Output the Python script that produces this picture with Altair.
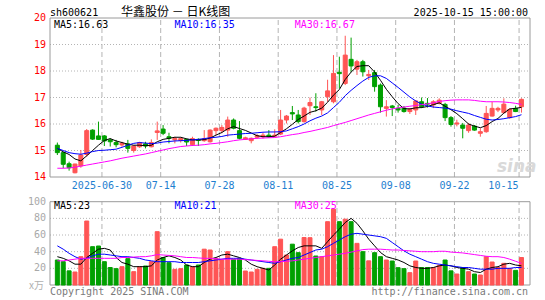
import altair as alt
import pandas as pd

# ---------------- data ----------------
opens = [15.20, 14.92, 14.50, 14.16, 14.42, 14.85, 15.77, 15.55, 15.55, 15.40,
         15.30, 15.21, 15.25, 15.00, 15.14, 15.25, 15.14, 15.68, 15.81, 15.52,
         15.40, 15.38, 15.42, 15.22, 15.42, 15.37, 15.33, 15.75, 15.75, 15.77,
         16.15, 15.75, 15.42, 15.37, 15.50, 15.52, 15.58, 15.54, 15.62, 16.15,
         16.43, 16.34, 16.09, 16.69, 16.65, 16.53, 17.03, 16.84, 17.95, 17.53,
         18.44, 18.07, 18.35, 17.82, 17.94, 17.47, 16.59, 16.68, 16.59, 16.60,
         16.47, 16.53, 16.84, 16.78, 16.72, 16.78, 16.74, 16.24, 16.00, 15.96,
         15.75, 15.92, 15.65, 15.71, 16.30, 16.53, 16.43, 16.24, 16.59, 16.65]
highs = [15.30, 14.95, 14.58, 14.50, 15.02, 15.81, 15.80, 16.09, 15.58, 15.46,
         15.40, 15.33, 15.40, 15.20, 15.33, 15.33, 15.42, 16.09, 15.96, 15.67,
         15.52, 15.50, 15.45, 15.52, 15.46, 15.77, 15.80, 15.87, 15.96, 16.28,
         16.21, 16.11, 15.52, 15.49, 15.62, 15.67, 15.77, 15.80, 16.53, 16.34,
         16.68, 16.53, 16.65, 17.00, 17.16, 16.87, 17.67, 18.60, 18.54, 19.33,
         19.26, 18.42, 18.42, 18.04, 18.04, 17.53, 16.90, 16.72, 16.72, 16.68,
         16.60, 16.90, 17.00, 16.98, 16.90, 16.97, 16.80, 16.30, 16.16, 16.04,
         16.04, 15.96, 15.84, 16.68, 16.84, 16.65, 16.97, 16.59, 16.69, 16.97]
lows = [14.83, 14.33, 14.24, 14.14, 14.35, 14.77, 15.40, 15.40, 15.17, 15.15,
        15.12, 15.14, 14.92, 14.92, 15.10, 15.08, 15.12, 15.40, 15.58, 15.27,
        15.27, 15.30, 15.17, 15.17, 15.17, 15.33, 15.30, 15.58, 15.65, 15.52,
        15.80, 15.42, 15.40, 15.27, 15.44, 15.45, 15.49, 15.50, 15.58, 16.02,
        16.15, 16.02, 16.05, 16.34, 16.47, 16.34, 16.84, 16.78, 17.34, 17.47,
        17.97, 17.85, 17.79, 17.66, 17.22, 16.43, 16.28, 16.30, 16.43, 16.43,
        16.38, 16.34, 16.60, 16.62, 16.60, 16.74, 16.11, 15.90, 15.91, 15.46,
        15.67, 15.75, 15.52, 15.67, 16.28, 16.45, 16.40, 16.20, 16.45, 16.43]
closes = [14.92, 14.48, 14.35, 14.49, 14.83, 15.75, 15.43, 15.42, 15.36, 15.33,
          15.22, 15.27, 15.08, 15.17, 15.30, 15.17, 15.30, 15.74, 15.65, 15.46,
          15.45, 15.45, 15.32, 15.45, 15.38, 15.44, 15.77, 15.84, 15.87, 16.15,
          15.84, 15.46, 15.48, 15.46, 15.56, 15.58, 15.52, 15.58, 16.15, 16.30,
          16.38, 16.09, 16.60, 16.81, 16.62, 16.84, 17.25, 17.91, 17.90, 18.60,
          18.19, 18.35, 17.97, 17.87, 17.41, 16.65, 16.65, 16.62, 16.53, 16.47,
          16.56, 16.87, 16.65, 16.75, 16.84, 16.90, 16.24, 15.98, 16.04, 15.84,
          15.96, 15.77, 15.71, 16.40, 16.59, 16.59, 16.75, 16.55, 16.47, 16.93]
volumes = [30, 28, 17, 15.6, 34, 76.8, 46, 46.8, 28, 21,
           19.6, 22, 31.6, 16, 22, 22.8, 28, 64, 33, 26.8,
           18.8, 19.6, 24, 22, 24, 43, 42, 32, 30, 40,
           30.8, 32, 16.8, 15.6, 18.8, 20, 20, 46, 55, 36,
           49, 38.8, 57, 56.8, 34.8, 34, 76, 91, 76, 79,
           76, 50, 40, 29, 38.8, 34, 30, 28.8, 20.8, 19.6,
           14.8, 28.8, 21, 21, 21, 23.6, 30, 17, 13.2, 21,
           16, 13.2, 12, 34, 27.6, 21, 26, 19.6, 17.6, 33]
ma5 = [15.08, 14.95, 14.85, 14.68, 14.61, 14.80, 15.00, 15.20, 15.38, 15.45,
       15.36, 15.30, 15.24, 15.20, 15.20, 15.18, 15.20, 15.33, 15.42, 15.46,
       15.50, 15.50, 15.44, 15.40, 15.40, 15.41, 15.47, 15.58, 15.68, 15.82,
       15.90, 15.83, 15.76, 15.66, 15.56, 15.52, 15.52, 15.54, 15.68, 15.82,
       15.99, 16.17, 16.30, 16.44, 16.50, 16.60, 16.82, 17.09, 17.30, 17.68,
       17.96, 18.17, 18.20, 18.20, 17.96, 17.65, 17.31, 17.03, 16.77, 16.58,
       16.57, 16.61, 16.62, 16.66, 16.73, 16.80, 16.67, 16.54, 16.39, 16.20,
       16.00, 15.92, 15.86, 15.94, 16.09, 16.21, 16.41, 16.57, 16.59, 16.63]
ma10 = [15.08, 15.00, 14.92, 14.88, 14.86, 14.90, 14.96, 15.00, 15.01, 15.03,
        15.05, 15.12, 15.20, 15.27, 15.30, 15.28, 15.26, 15.28, 15.32, 15.34,
        15.36, 15.37, 15.38, 15.40, 15.42, 15.45, 15.48, 15.50, 15.53, 15.58,
        15.60, 15.62, 15.64, 15.65, 15.67, 15.69, 15.70, 15.70, 15.71, 15.74,
        15.82, 15.90, 16.00, 16.12, 16.22, 16.30, 16.42, 16.62, 16.82, 17.07,
        17.27, 17.45, 17.62, 17.76, 17.82, 17.82, 17.72, 17.55, 17.38, 17.20,
        17.02, 16.87, 16.75, 16.68, 16.64, 16.62, 16.60, 16.56, 16.50, 16.45,
        16.40, 16.32, 16.25, 16.18, 16.15, 16.17, 16.20, 16.24, 16.28, 16.35]
ma30 = [14.33, 14.33, 14.34, 14.37, 14.41, 14.45, 14.49, 14.53, 14.57, 14.61,
        14.66, 14.71, 14.75, 14.79, 14.83, 14.87, 14.92, 14.97, 15.02, 15.07,
        15.11, 15.15, 15.17, 15.19, 15.20, 15.22, 15.25, 15.27, 15.30, 15.33,
        15.37, 15.40, 15.42, 15.44, 15.46, 15.47, 15.48, 15.49, 15.52, 15.56,
        15.60, 15.63, 15.68, 15.72, 15.77, 15.82, 15.87, 15.94, 16.00, 16.06,
        16.13, 16.20, 16.27, 16.34, 16.40, 16.46, 16.52, 16.57, 16.61, 16.64,
        16.67, 16.70, 16.73, 16.76, 16.80, 16.85, 16.88, 16.90, 16.91, 16.91,
        16.91, 16.89, 16.86, 16.84, 16.84, 16.84, 16.83, 16.81, 16.78, 16.74]
vma5 = [34, 32, 29, 25, 25, 33, 38, 43, 44, 42,
        33, 27, 25, 22, 22, 22, 23, 30, 33, 35,
        33, 30, 24, 22, 22, 27, 31, 33, 36, 37,
        35, 33, 30, 25, 22, 20, 18, 24, 31, 36,
        41, 45, 47, 47, 47, 44, 52, 60, 67, 75,
        80, 74, 65, 55, 47, 39, 34, 32, 30, 27,
        23, 21, 20, 20, 21, 23, 24, 23, 21, 20,
        19, 16, 15, 19, 21, 22, 25, 26, 24, 23]
vma10 = [47, 43, 38, 34, 31, 32, 35, 37, 37, 36,
         35, 34, 34, 33, 32, 30, 29, 28, 28, 28,
         28, 27, 27, 27, 27, 28, 29, 30, 31, 32,
         32, 32, 31, 30, 29, 28, 27, 26, 28, 30,
         32, 33, 36, 39, 42, 43, 46, 50, 54, 58,
         61, 62, 61, 60, 59, 58, 56, 51, 46, 41,
         37, 34, 31, 28, 26, 25, 24, 23, 22, 21,
         21, 20, 19, 19, 19, 20, 20, 20, 21, 21]
vma30 = [29, 29, 30, 31, 32, 32, 32, 32, 32, 32,
         32, 33, 33, 33.5, 34, 34, 35, 36.5, 36, 35.5,
         35, 34, 33, 33, 32.5, 32, 32, 31.5, 31, 31,
         31, 31, 30.5, 30, 29.5, 29, 28.5, 28, 28, 28.5,
         29, 30, 31, 32, 33, 34, 35, 36, 37, 38,
         39.5, 41, 42.5, 43, 43, 43, 42.5, 42, 42, 41.5,
         41, 40.5, 40, 40, 40, 40.5, 40.5, 39.5, 39, 38.5,
         37.5, 36.5, 35.5, 34.5, 34, 34, 33, 31, 28.5, 26]

date_tick_idx = [8, 18, 28, 38, 48, 58, 68, 79]
date_tick_labels = ["2025-06-30", "07-14", "07-28", "08-11", "08-25", "09-08", "09-22", "10-15"]
price_ticks = [14, 15, 16, 17, 18, 19, 20]
price_grid = [15, 16, 17, 18, 19]
vol_ticks = [20, 40, 60, 80, 100]
vol_grid = [20, 40, 60, 80]

header_code = "sh600621"
header_title = "华鑫股份 － 日K线图"
header_time = "2025-10-15 15:00:00"
price_legend = ["MA5:16.63", "MA10:16.35", "MA30:16.67"]
vol_legend = ["MA5:23", "MA10:21", "MA30:25"]
vol_unit = "x万"
footer_left = "Copyright 2025 SINA.COM"
footer_right = "http://finance.sina.com.cn"

# ---------------- styling / layout ----------------
W, H = 480, 267
FONT = "DejaVu Sans Mono"
CJK = "Noto Sans CJK SC"
RED = "#ff5555"
GREEN = "#00a000"
GRID = "#b4b4b4"
FRAME = "#9a9a9a"
DATE_BLUE = "#1e80d0"

n = len(closes)
df = pd.DataFrame({
    "i": list(range(n)), "o": opens, "h": highs, "l": lows, "c": closes, "v": volumes,
    "ma5": ma5, "ma10": ma10, "ma30": ma30, "vma5": vma5, "vma10": vma10, "vma30": vma30,
})
df["col"] = [RED if c >= o else GREEN for o, c in zip(opens, closes)]

xs = alt.Scale(domain=[-0.4, 79.6], nice=False, zero=False)
ps = alt.Scale(domain=[9.925, 20], nice=False, zero=False)
vs = alt.Scale(domain=[0, 320.5], nice=False, zero=False)


def X(f="i"):
    return alt.X(f"{f}:Q", scale=xs, axis=None)


def PY(f):
    return alt.Y(f"{f}:Q", scale=ps, axis=None)


def VY(f):
    return alt.Y(f"{f}:Q", scale=vs, axis=None)


ticks_df = pd.DataFrame({"i": date_tick_idx, "lab": date_tick_labels,
                         "p0": 14, "p1": 20, "v0": 0, "v1": 100})
frame_df = pd.DataFrame({"p0": [14], "p1": [20], "v0": [0], "v1": [100]})
pgrid_df = pd.DataFrame({"p": price_grid})
vgrid_df = pd.DataFrame({"v": vol_grid})
plab_df = pd.DataFrame({"p": price_ticks, "lab": [str(p) for p in price_ticks]})
vlab_df = pd.DataFrame({"v": vol_ticks, "lab": [str(v) for v in vol_ticks]})

base = alt.Chart(df)
colr = alt.Color("col:N", scale=None)

# ---------- price panel ----------
p_hgrid = alt.Chart(pgrid_df).mark_rule(color=GRID, strokeDash=[1, 2], strokeWidth=1).encode(
    x=alt.value(0), x2=alt.value(W), y=PY("p"))
p_vgrid = alt.Chart(ticks_df).mark_rule(color=GRID, strokeDash=[5, 3], strokeWidth=1, xOffset=-2.4).encode(
    x=X(), y=PY("p0"), y2=alt.Y2("p1"))
p_frame = alt.Chart(frame_df).mark_rect(fill="transparent", stroke=FRAME, strokeWidth=1).encode(
    x=alt.value(0), x2=alt.value(W), y=PY("p0"), y2=alt.Y2("p1"))
wicks = base.mark_rule(strokeWidth=1).encode(x=X(), y=PY("l"), y2=alt.Y2("h"), color=colr)
bodies = base.mark_bar(size=4, strokeWidth=1, orient="vertical").encode(
    x=X(), y=PY("o"), y2=alt.Y2("c"), color=colr, stroke=alt.Stroke("col:N", scale=None))
l5 = base.mark_line(color="black", strokeWidth=1).encode(x=X(), y=PY("ma5"))
l10 = base.mark_line(color="#0000ff", strokeWidth=1).encode(x=X(), y=PY("ma10"))
l30 = base.mark_line(color="#ff00ff", strokeWidth=1).encode(x=X(), y=PY("ma30"))
plabels = alt.Chart(plab_df).mark_text(align="right", baseline="middle", font=FONT, fontSize=10,
                                       color="#ff0000").encode(x=alt.value(-4), y=PY("p"), text="lab:N")
dlabels = alt.Chart(ticks_df.iloc[:-1]).mark_text(align="center", baseline="middle", font=FONT, fontSize=10,
                                                 color=DATE_BLUE, dx=-2.4).encode(
    x=X(), y=alt.value(168), text="lab:N")
dlabel_last = alt.Chart(ticks_df.iloc[-1:]).mark_text(align="right", baseline="middle", font=FONT, fontSize=10,
                                                     color=DATE_BLUE, dx=-3).encode(
    x=X(), y=alt.value(168), text="lab:N")

price_layer = alt.layer(p_hgrid, p_vgrid, p_frame, wicks, bodies, l5, l10, l30,
                        plabels, dlabels, dlabel_last)

# ---------- volume panel ----------
v_hgrid = alt.Chart(vgrid_df).mark_rule(color=GRID, strokeDash=[1, 2], strokeWidth=1).encode(
    x=alt.value(0), x2=alt.value(W), y=VY("v"))
v_vgrid = alt.Chart(ticks_df).mark_rule(color=GRID, strokeDash=[5, 3], strokeWidth=1, xOffset=-2.4).encode(
    x=X(), y=VY("v0"), y2=alt.Y2("v1"))
v_frame = alt.Chart(frame_df).mark_rect(fill="transparent", stroke=FRAME, strokeWidth=1).encode(
    x=alt.value(0), x2=alt.value(W), y=VY("v0"), y2=alt.Y2("v1"))
vbars = base.mark_bar(size=4, strokeWidth=1, orient="vertical").encode(
    x=X(), y=VY("v"), color=colr, stroke=alt.Stroke("col:N", scale=None))
v5 = base.mark_line(color="black", strokeWidth=1).encode(x=X(), y=VY("vma5"))
v10 = base.mark_line(color="#0000ff", strokeWidth=1).encode(x=X(), y=VY("vma10"))
v30 = base.mark_line(color="#ff00ff", strokeWidth=1).encode(x=X(), y=VY("vma30"))
vlabels = alt.Chart(vlab_df).mark_text(align="right", baseline="middle", font=FONT, fontSize=10,
                                       color="#a8a8a8").encode(x=alt.value(-4), y=VY("v"), text="lab:N")

vol_layer = alt.layer(v_hgrid, v_vgrid, v_frame, vbars, v5, v10, v30, vlabels)


# ---------- static texts ----------
def txt(s, x, y, color="black", align="left", font=FONT, size=10, **kw):
    return alt.Chart(pd.DataFrame({"t": [s]})).mark_text(
        align=align, baseline="alphabetic", font=font, fontSize=size, color=color, **kw).encode(
        x=alt.value(x), y=alt.value(y), text="t:N")


texts = [
    txt(header_code, 0, -2.5),
    txt(header_title, 71, -2.5, font=CJK, size=12),
    txt(header_time, 478, -2.5, align="right"),
    txt(price_legend[0], 4, 10, "black"),
    txt(price_legend[1], 124.5, 10, "#0000ff"),
    txt(price_legend[2], 244.7, 10, "#ff00ff"),
    txt(vol_legend[0], 4, 191.3, "black"),
    txt(vol_legend[1], 124.5, 191.3, "#0000ff"),
    txt(vol_legend[2], 244.7, 191.3, "#ff00ff"),
    txt(vol_unit, -6, 271, "#b0b0b0", align="right", font=CJK, size=10),
    txt(footer_left, 0, 277, "#7a7a7a"),
    txt(footer_right, 478, 277, "#7a7a7a", align="right"),
    txt("sina", 447, 154, "#d9d9d9", font="DejaVu Sans", size=17, fontStyle="italic", fontWeight="bold"),
]
text_layer = alt.layer(*texts)

chart = alt.layer(price_layer, vol_layer, text_layer).resolve_scale(y="independent").properties(
    width=W, height=H,
    padding={"left": 50, "top": 18, "right": 15, "bottom": 15},
    autosize=alt.AutoSizeParams(type="none"),
    background="white",
).configure_view(strokeWidth=0)

chart.save("out.html", embed_options={"renderer": "svg", "actions": False})
